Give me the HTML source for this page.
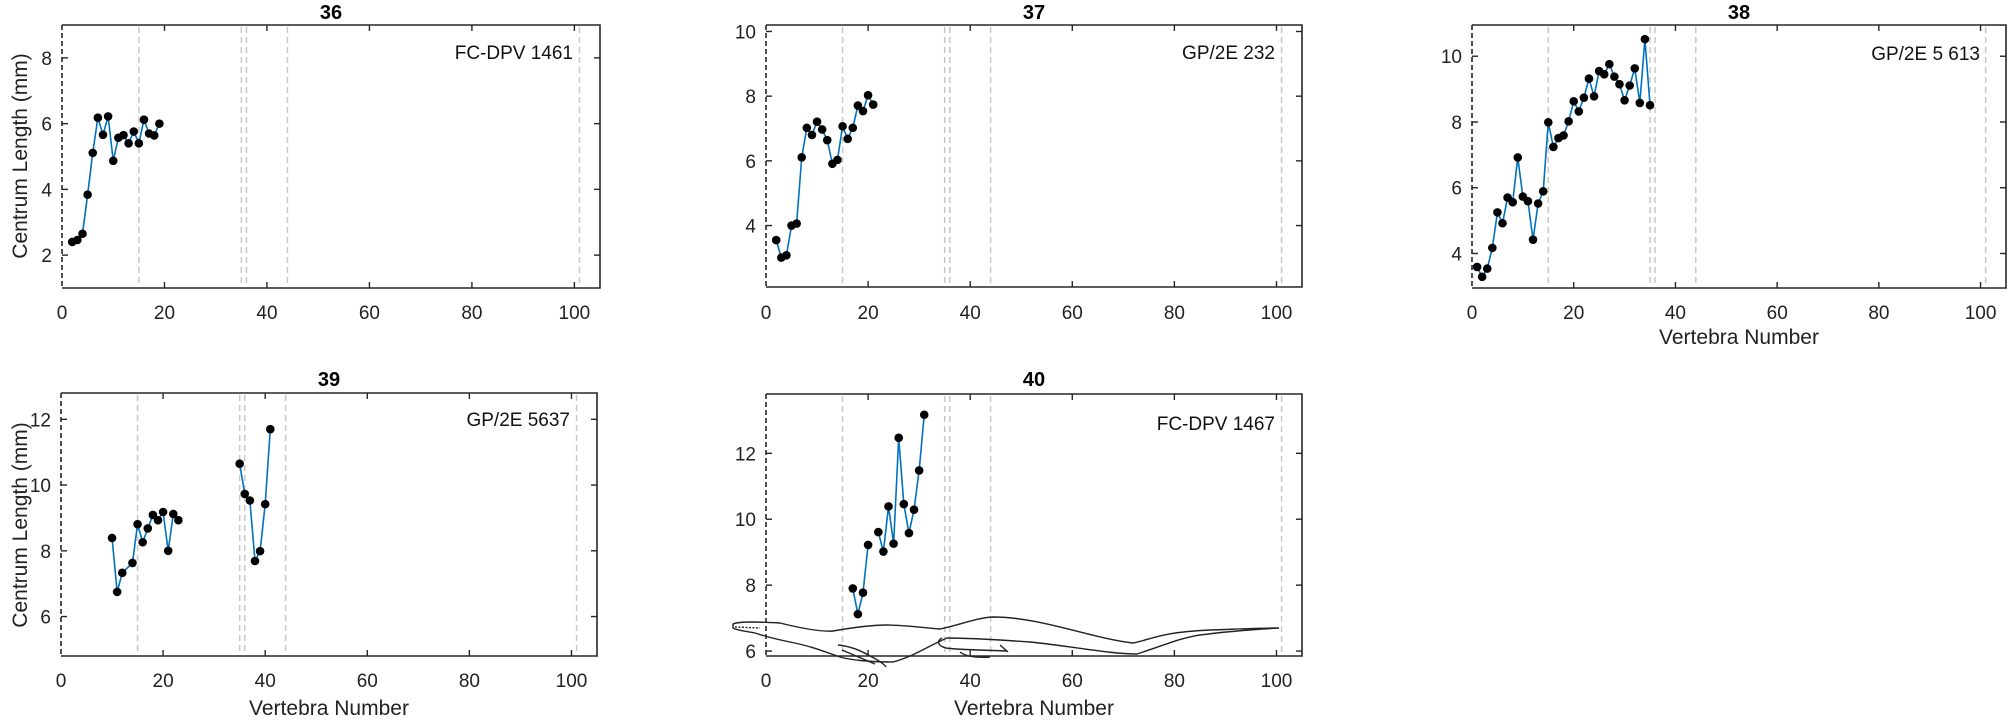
<!DOCTYPE html>
<html><head><meta charset="utf-8"><style>
html,body{margin:0;padding:0;background:#fff;}
svg{display:block;font-family:"Liberation Sans",Arial,sans-serif;}
.t{font-size:19px;fill:#222;}
.ti{font-size:20px;font-weight:bold;fill:#000;text-anchor:middle;}
.lb{font-size:21px;fill:#222;text-anchor:middle;}
.xt{text-anchor:middle;}
.yt{text-anchor:end;}
.an{font-size:19px;fill:#111;text-anchor:end;}
</style></head><body>
<svg id="s" width="2008" height="728" viewBox="0 0 2008 728" xmlns="http://www.w3.org/2000/svg">
<g id="plots"></g>
<g fill="none" stroke="#222" stroke-width="1.4">
<path d="M733,624 C740,621 760,622 780,623 C800,628 820,632 833,631 C850,628 870,625 887,625 C905,625 925,628 940,629 C960,625 975,618 993,617 C1040,617 1090,638 1133,643 C1150,640 1160,632 1210,630 C1240,629 1262,628 1279,628 C1262,629 1230,631 1200,635 C1180,638 1165,645 1137,654 C1110,654 1070,646 1030,642 C1000,640 975,638 947,638 C930,645 915,656 893,662 C870,662 850,660 840,657 C820,650 810,646 790,642 C775,639 767,637 755,633 C745,631 735,630 733,628 Z"/>
<path d="M838,645 C848,646 860,650 870,656 C878,660 884,664 886,667 M842,650 L875,664"/>
<path d="M942,638 C936,641 938,646 946,648 C960,650 985,650 1007,651 M1000,645 L1008,652 M960,652 C965,656 975,658 990,657"/>
<path d="M735,627 L760,628" stroke-dasharray="2,1.5"/>
</g>
<text class="ti" x="331" y="19">36</text>
<text class="ti" x="1034" y="19">37</text>
<text class="ti" x="1739" y="19">38</text>
<text class="ti" x="329" y="386">39</text>
<text class="ti" x="1034" y="386">40</text>
<text class="an" x="573" y="59">FC-DPV 1461</text>
<text class="an" x="1275" y="59">GP/2E 232</text>
<text class="an" x="1980" y="60">GP/2E 5 613</text>
<text class="an" x="570" y="426">GP/2E 5637</text>
<text class="an" x="1275" y="430">FC-DPV 1467</text>
<g class="t xt">
<text x="62" y="319">0</text><text x="164.5" y="319">20</text><text x="267" y="319">40</text><text x="369.4" y="319">60</text><text x="471.9" y="319">80</text><text x="574.4" y="319">100</text>
<text x="766" y="319">0</text><text x="868.1" y="319">20</text><text x="970.2" y="319">40</text><text x="1072.3" y="319">60</text><text x="1174.4" y="319">80</text><text x="1276.5" y="319">100</text>
<text x="1472" y="319">0</text><text x="1573.7" y="319">20</text><text x="1675.4" y="319">40</text><text x="1777.2" y="319">60</text><text x="1878.9" y="319">80</text><text x="1980.6" y="319">100</text>
<text x="61" y="687">0</text><text x="163.1" y="687">20</text><text x="265.2" y="687">40</text><text x="367.3" y="687">60</text><text x="469.4" y="687">80</text><text x="571.5" y="687">100</text>
<text x="766" y="687">0</text><text x="868.1" y="687">20</text><text x="970.2" y="687">40</text><text x="1072.3" y="687">60</text><text x="1174.4" y="687">80</text><text x="1276.5" y="687">100</text>
</g>
<g class="t yt">
<text x="52" y="65">8</text><text x="52" y="130.6">6</text><text x="52" y="196.4">4</text><text x="52" y="262">2</text>
<text x="756" y="38.5">10</text><text x="756" y="103.2">8</text><text x="756" y="168">6</text><text x="756" y="232.6">4</text>
<text x="1462" y="63.2">10</text><text x="1462" y="129">8</text><text x="1462" y="194.7">6</text><text x="1462" y="260.5">4</text>
<text x="51" y="426.3">12</text><text x="51" y="492">10</text><text x="51" y="557.8">8</text><text x="51" y="623.6">6</text>
<text x="756" y="460.3">12</text><text x="756" y="526.2">10</text><text x="756" y="592.2">8</text><text x="756" y="658.1">6</text>
</g>
<text class="lb" x="1739" y="344">Vertebra Number</text>
<text class="lb" x="329" y="715">Vertebra Number</text>
<text class="lb" x="1034" y="715">Vertebra Number</text>
<text class="lb" transform="translate(27,156) rotate(-90)">Centrum Length (mm)</text>
<text class="lb" transform="translate(27,525) rotate(-90)">Centrum Length (mm)</text>
</svg>
<script>
(function(){
var NS="http://www.w3.org/2000/svg",G=document.getElementById("plots");
function el(n,a){var e=document.createElementNS(NS,n);for(var k in a)e.setAttribute(k,a[k]);G.appendChild(e);return e;}
var P=[
{l:62,r:600,t:25,b:288,y0:1,y1:9,yt:[2,4,6,8],d:[[[2,2.40],[3,2.46],[4,2.65],[5,3.84],[6,5.11],[7,6.18],[8,5.66],[9,6.22],[10,4.87],[11,5.57],[12,5.65],[13,5.40],[14,5.76],[15,5.40],[16,6.12],[17,5.70],[18,5.64],[19,6.0]]]},
{l:766,r:1302,t:25,b:287,y0:2.1,y1:10.2,yt:[4,6,8,10],d:[[[2,3.55],[3,3.01],[4,3.08],[5,4.0],[6,4.06],[7,6.11],[8,7.02],[9,6.8],[10,7.21],[11,6.97],[12,6.64],[13,5.91],[14,6.03],[15,7.07],[16,6.68],[17,7.02],[18,7.71],[19,7.54],[20,8.03],[21,7.74]]]},
{l:1472,r:2006,t:25,b:288,y0:2.95,y1:10.95,yt:[4,6,8,10],d:[[[1,3.59],[2,3.29],[3,3.54],[4,4.17],[5,5.25],[6,4.92],[7,5.70],[8,5.56],[9,6.92],[10,5.73],[11,5.59],[12,4.42],[13,5.52],[14,5.89],[15,7.99],[16,7.24],[17,7.51],[18,7.59],[19,8.02],[20,8.63],[21,8.32],[22,8.74],[23,9.32],[24,8.78],[25,9.55],[26,9.45],[27,9.76],[28,9.38],[29,9.15],[30,8.66],[31,9.11],[32,9.63],[33,8.58],[34,10.52],[35,8.51]]]},
{l:61,r:597,t:393,b:656,y0:4.8,y1:12.8,yt:[6,8,10,12],d:[[[10,8.39],[11,6.75],[12,7.33],[14,7.63],[15,8.81],[16,8.26],[17,8.68],[18,9.09],[19,8.93],[20,9.18],[21,8.0],[22,9.12],[23,8.93]],[[35,10.65],[36,9.73],[37,9.53],[38,7.69],[39,7.99],[40,9.42],[41,11.7]]]},
{l:766,r:1302,t:394,b:656,y0:5.85,y1:13.8,yt:[6,8,10,12],d:[[[17,7.90],[18,7.12],[19,7.77],[20,9.22]],[[22,9.61],[23,9.02],[24,10.39],[25,9.26],[26,12.47],[27,10.46],[28,9.58],[29,10.29],[30,11.48],[31,13.17]]]}
];
P.forEach(function(p){
 var sx=(p.r-p.l)/105,sy=(p.b-p.t)/(p.y1-p.y0);
 function X(x){return p.l+x*sx;} function Y(y){return p.b-(y-p.y0)*sy;}
 [15,35,36,44,101].forEach(function(v){el("line",{x1:X(v),x2:X(v),y1:p.t+2,y2:p.b-1,stroke:"#c8c8c8","stroke-width":1.5,"stroke-dasharray":"6,4"});});
 el("path",{d:"M"+p.l+","+p.t+"H"+p.r+"V"+p.b+"H"+p.l,fill:"none",stroke:"#262626","stroke-width":1.6});
 el("line",{x1:p.l,x2:p.l,y1:p.t,y2:p.b,stroke:"#262626","stroke-width":1.6,"stroke-dasharray":"5,3"});
 for(var k=20;k<=100;k+=20){el("line",{x1:X(k),x2:X(k),y1:p.b,y2:p.b-6,stroke:"#262626","stroke-width":1.4});el("line",{x1:X(k),x2:X(k),y1:p.t,y2:p.t+6,stroke:"#262626","stroke-width":1.4});}
 p.yt.forEach(function(v){el("line",{x1:p.l,x2:p.l+6,y1:Y(v),y2:Y(v),stroke:"#262626","stroke-width":1.4});el("line",{x1:p.r,x2:p.r-6,y1:Y(v),y2:Y(v),stroke:"#262626","stroke-width":1.4});});
 p.d.forEach(function(s){
  el("polyline",{points:s.map(function(q){return X(q[0])+","+Y(q[1]);}).join(" "),fill:"none",stroke:"#0072BD","stroke-width":1.6});
 });
 p.d.forEach(function(s){s.forEach(function(q){el("circle",{cx:X(q[0]),cy:Y(q[1]),r:4.3,fill:"#000"});});});
});
})();
</script>
</body></html>
